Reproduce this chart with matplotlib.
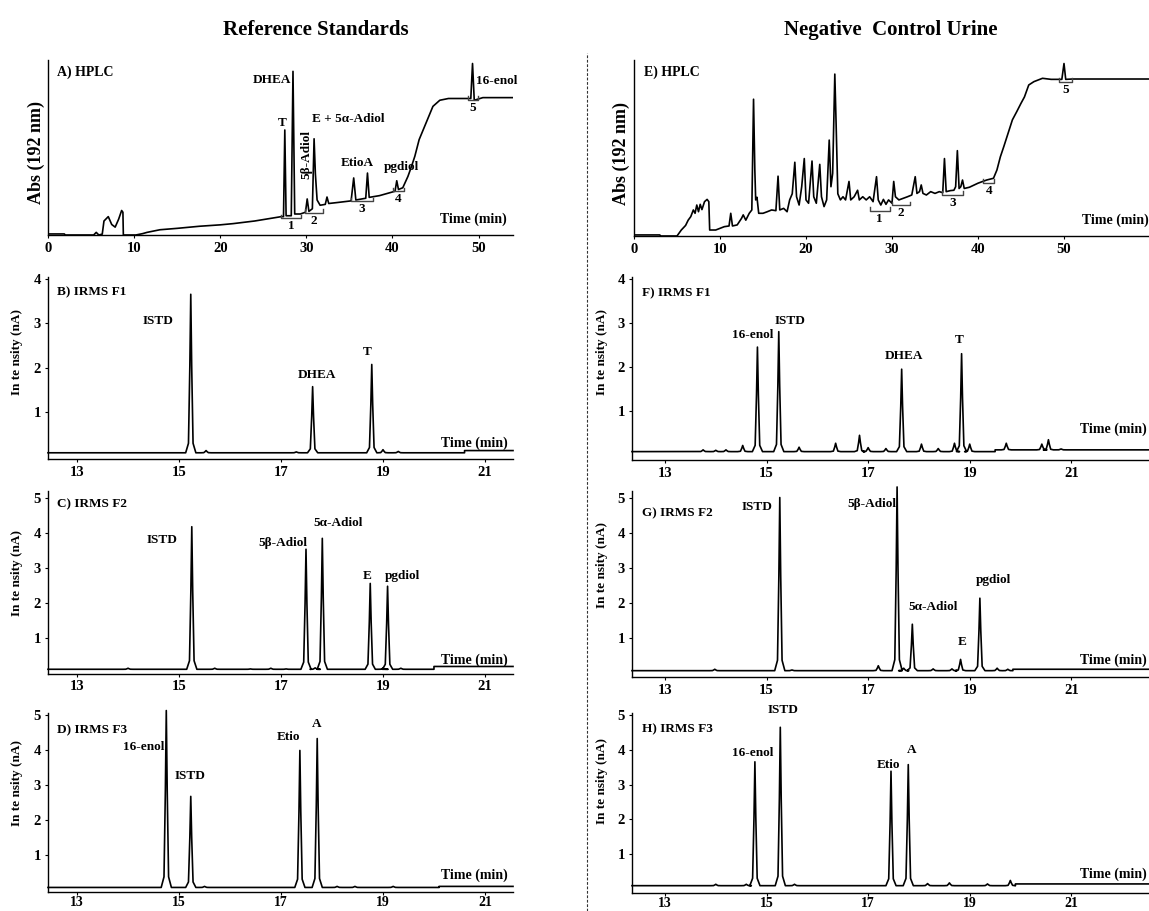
import matplotlib
matplotlib.use('Agg')
import matplotlib.pyplot as plt
from matplotlib.lines import Line2D

plt.rcParams['font.family'] = ['Liberation Serif', 'DejaVu Serif']
plt.rcParams['font.weight'] = 'bold'
plt.rcParams['axes.labelweight'] = 'bold'

# ---- HPLC traces (time in min, absorbance in arbitrary units) ----
hplc_std_t = [0, 1.9, 2.0, 5.3, 5.6, 5.9, 6.3, 6.5, 7.0, 7.4, 7.8, 8.2, 8.55, 8.7, 8.75,
              10.2, 11.0, 11.5, 13.0, 15.0, 17.6, 20.0, 21.5, 24.0, 27.1, 27.35, 27.5,
              27.65, 28.25, 28.45, 28.65, 29.3, 29.9, 30.1, 30.3, 30.7, 30.9, 31.05,
              31.25, 31.6, 32.2, 32.4, 32.6, 33.5, 35.2, 35.5, 35.75, 36.9, 37.1, 37.3,
              38.5, 40.3, 40.5, 40.7, 41.2, 41.8, 42.2, 42.6, 43.1, 43.9, 44.7, 45.5,
              46.5, 49.1, 49.3, 49.5, 50.5, 54.0]
hplc_std_y = [0.6, 0.6, 0, 0, 1.5, 0, 0.5, 8, 10.5, 6, 4.5, 9, 14, 13, 0,
              0, 0.8, 1.5, 3, 3.8, 5, 5.8, 6.5, 8, 10.5, 10.5, 60,
              11, 11, 93.5, 12, 12, 13, 20.6, 13.5, 15, 55, 35,
              20, 17, 17.5, 21.7, 18, 18.5, 19.5, 32.6, 20, 21, 35.4, 21.5,
              22.5, 25, 31, 26, 27, 33.5, 39, 45, 54.5, 64, 73.5, 77,
              78, 78, 98, 77, 78.5, 78.5]

hplc_urine_t = [0, 3.0, 3.1, 5.0, 5.5, 6.0, 6.3, 6.6, 6.9, 7.1, 7.3, 7.5, 7.7, 7.9, 8.2,
                8.5, 8.7, 8.8, 9.5, 10.5, 11.05, 11.25, 11.45, 12.0, 12.5, 12.7, 13.0,
                13.4, 13.7, 13.9, 14.05, 14.15, 14.3, 14.5, 15.0, 15.5, 16.0, 16.5,
                16.75, 16.95, 17.4, 17.8, 18.1, 18.4, 18.7, 18.9, 19.2, 19.5, 19.8,
                20.0, 20.3, 20.7, 20.9, 21.2, 21.6, 21.8, 22.1, 22.4, 22.7, 22.9, 23.1,
                23.35, 23.5, 23.7, 24.0, 24.3, 24.6, 25.0, 25.2, 25.6, 26.0, 26.2, 26.6,
                27.0, 27.4, 27.8, 28.2, 28.4, 28.7, 29.0, 29.3, 29.6, 30.0, 30.2, 30.4,
                30.8, 31.3, 31.8, 32.3, 32.7, 32.9, 33.2, 33.4, 33.6, 34.0, 34.5, 35.0,
                35.5, 35.9, 36.1, 36.3, 36.8, 37.2, 37.4, 37.6, 37.8, 38.0, 38.2, 38.4,
                39.0, 40.0, 41.0, 41.8, 42.2, 42.6, 43.0, 43.5, 44.0, 44.5, 45.0, 45.4,
                45.9, 46.5, 47.5, 48.5, 49.75, 50.0, 50.2, 51.0, 60.0]
hplc_urine_y = [0.6, 0.6, 0, 0, 3.4, 6, 9, 11, 14.8, 12.9, 17.6, 13.8, 18, 15, 19.5,
                20.8, 19.5, 3.4, 3.4, 5.3, 5.7, 12.9, 5.7, 6.3, 10, 12, 9,
                12.9, 14.8, 77.7, 37.5, 20.5, 22, 12.9, 12.9, 13.8, 14.8, 14.4,
                34, 14.8, 15.7, 13.8, 20.5, 24, 41.9, 22.3, 17.6, 28, 44,
                20.5, 18.6, 42.6, 22.3, 18.6, 40.7, 22.3, 16.7, 20.5, 54.5, 28, 35.6,
                92, 64, 24, 20.5, 22.3, 20.5, 31, 20.5, 22.3, 26, 20.5, 22.3,
                20.5, 22.3, 19.5, 33.7, 20.5, 17.6, 20.8, 18, 20.5, 18.6, 31, 22.3,
                20.5, 21.4, 22.3, 23.3, 33.7, 24.2, 25.2, 29, 24.2, 23.3, 25.2, 24.2,
                25.2, 24.6, 44, 25.2, 25.8, 26, 28, 48.5, 27, 28, 31.8, 27,
                27.7, 30, 31.8, 32.8, 37.5, 45, 50.8, 58.3, 66, 70.6, 75.4, 79,
                85.8, 87.7, 89.6, 89, 89, 98, 89, 89.2, 89.2]

# collected HPLC fractions (start, end, level)
frac_names = ['1', '2', '3', '4', '5']
frac_std_t0 = [27.1, 29.8, 35.2, 40.1, 48.8]
frac_std_t1 = [29.4, 31.9, 37.7, 41.3, 49.9]
frac_std_y = [9.7, 12.6, 19.2, 25.0, 77.3]
frac_urine_t0 = [27.4, 30.0, 35.8, 40.6, 49.4]
frac_urine_t1 = [29.75, 32.1, 38.3, 41.9, 50.9]
frac_urine_y = [14.4, 17.6, 23.3, 30.3, 87.7]

# ---- IRMS peaks (retention time in min, intensity in nA) ----
f1_std_peak_t = [15.23, 15.53, 17.3, 17.62, 18.78, 19.0, 19.3]
f1_std_peak_h = [3.65, 0.13, 0.1, 1.57, 2.07, 0.15, 0.11]
f1_std_base_t = [12.43, 20.6]
f1_std_base_y = [0.08, 0.13]

f2_std_peak_t = [14.0, 15.25, 15.7, 16.4, 16.8, 17.1, 17.49, 17.67, 17.81, 18.75, 19.0, 19.09, 19.35]
f2_std_peak_h = [0.15, 4.17, 0.15, 0.13, 0.15, 0.13, 3.53, 0.16, 3.84, 2.56, 0.15, 2.48, 0.15]
f2_std_base_t = [12.43, 20.0]
f2_std_base_y = [0.12, 0.2]

f3_std_peak_t = [14.75, 15.23, 15.5, 17.37, 17.71, 18.1, 18.45, 19.2]
f3_std_peak_h = [5.12, 2.67, 0.1, 3.98, 4.32, 0.1, 0.1, 0.1]
f3_std_base_t = [12.43, 20.1]
f3_std_base_y = [0.07, 0.1]

f1_urine_peak_t = [13.75, 14.0, 14.2, 14.53, 14.82, 15.24, 15.64, 16.36, 16.83, 17.0, 17.35,
                   17.66, 18.05, 18.38, 18.7, 18.84, 19.0, 19.72, 20.42, 20.55, 20.8]
f1_urine_peak_h = [0.12, 0.11, 0.12, 0.22, 2.45, 2.8, 0.18, 0.27, 0.45, 0.17, 0.15,
                   1.95, 0.25, 0.15, 0.27, 2.3, 0.25, 0.27, 0.25, 0.35, 0.14]
f1_urine_base_t = [12.35, 19.5]
f1_urine_base_y = [0.08, 0.12]

f2_urine_peak_t = [13.98, 15.26, 15.5, 17.2, 17.57, 17.7, 17.87, 18.28, 18.65, 18.82, 19.2, 19.54, 19.75]
f2_urine_peak_h = [0.12, 5.0, 0.1, 0.22, 5.3, 0.15, 1.4, 0.13, 0.13, 0.4, 2.14, 0.15, 0.12]
f2_urine_base_t = [12.35, 19.85]
f2_urine_base_y = [0.08, 0.12]

f3_urine_peak_t = [14.0, 14.6, 14.77, 15.27, 15.55, 17.45, 17.79, 18.17, 18.6, 19.35, 19.8]
f3_urine_peak_h = [0.14, 0.14, 3.65, 4.64, 0.14, 3.38, 3.57, 0.16, 0.18, 0.15, 0.25]
f3_urine_base_t = [12.35, 19.9]
f3_urine_base_y = [0.1, 0.15]

hplc_ticks = [0, 10, 20, 30, 40, 50]
irms_ticks = [13, 15, 17, 19, 21]

W, H = 1149, 911
fig = plt.figure(figsize=(W / 100, H / 100), dpi=100)


def frame(l, r, t, b):
    return [l / W, 1 - b / H, (r - l) / W, (b - t) / H]


def style(ax):
    for s in ['top', 'right']:
        ax.spines[s].set_visible(False)
    for s in ['left', 'bottom']:
        ax.spines[s].set_linewidth(1.0)
    ax.tick_params(labelsize=10.5, length=2.5, width=0.8, pad=2.5)


# peak outline used to draw each IRMS peak on its baseline
SHAPE_DT = [-0.1, -0.045, -0.018, 0, 0.018, 0.045, 0.1]
SHAPE_F = [0, 0.06, 0.55, 1, 0.55, 0.06, 0]


def irms_trace(peak_t, peak_h, base_t, base_y, t_end):
    xs, ys = [], []
    bounds = list(base_t) + [t_end]
    pk = sorted(zip(peak_t, peak_h))
    for i, level in enumerate(base_y):
        lo, hi = bounds[i], bounds[i + 1]
        xs.append(lo)
        ys.append(level)
        for t, h in pk:
            if lo <= t < hi:
                for dt, f in zip(SHAPE_DT, SHAPE_F):
                    xs.append(t + dt)
                    ys.append(level + f * (h - level))
        xs.append(hi)
        ys.append(level)
    return xs, ys


def hplc_panel(rect, xmax, t, y, ft0, ft1, fy, label, time_x, lab_x):
    ax = fig.add_axes(rect)
    style(ax)
    ax.plot(t, y, color='black', lw=1.2)
    for name, a, b, lv in zip(frac_names, ft0, ft1, fy):
        ax.plot([a, a, b, b], [lv + 2, lv, lv, lv + 2], color='#444444', lw=1.0)
        ax.text((a + b) / 2, lv - 1.2, name, ha='center', va='top', fontsize=9.5)
    ax.set_xlim(0, xmax)
    ax.set_ylim(0, 100)
    ax.set_xticks(hplc_ticks)
    ax.set_yticks([])
    ax.set_ylabel('Abs (192 nm)', fontsize=13)
    ax.yaxis.set_label_coords(lab_x, 0.47)
    ax.text(0.02, 0.93, label, transform=ax.transAxes, fontsize=10, va='center')
    ax.text(time_x, 0.09, 'Time (min)', transform=ax.transAxes, fontsize=10,
            ha='right', va='center')
    return ax


def irms_panel(rect, xlim, ylim, yticks, trace, label, label_y, names, nx, ny,
               time_x, time_y, lab_x, lab_y):
    ax = fig.add_axes(rect)
    style(ax)
    xs, ys = trace
    ax.plot(xs, ys, color='black', lw=1.2, clip_on=False)
    ax.set_xlim(*xlim)
    ax.set_ylim(*ylim)
    ax.set_xticks(irms_ticks)
    ax.set_yticks(yticks)
    ax.set_ylabel('In te nsity (nA)', fontsize=9.5)
    ax.yaxis.set_label_coords(lab_x, lab_y)
    ax.text(0.02, label_y, label, transform=ax.get_yaxis_transform(), fontsize=9.5, va='center')
    for n, x, yv in zip(names, nx, ny):
        ax.text(x, yv, n, ha='center', va='center', fontsize=9.5)
    ax.text(time_x, time_y, 'Time (min)', ha='right', va='center', fontsize=10)
    return ax


# ---- HPLC panels ----
axA = hplc_panel(frame(48, 513, 60, 235), 54, hplc_std_t, hplc_std_y,
                 frac_std_t0, frac_std_t1, frac_std_y, 'A) HPLC', 0.987, -0.006)
axA.text(28.2, 88.8, 'DHEA', ha='right', va='center', fontsize=9.5)
axA.text(27.2, 64, 'T', ha='center', va='center', fontsize=9.5)
axA.text(30.0, 46, '5β-Adiol', ha='center', va='center', fontsize=9.5, rotation=90)
axA.text(30.6, 66.3, 'E + 5α-Adiol', ha='left', va='center', fontsize=9.5)
axA.text(35.9, 41, 'EtioA', ha='center', va='center', fontsize=9.5)
axA.text(41.0, 39, 'pgdiol', ha='center', va='center', fontsize=9.5)
axA.text(49.7, 87.8, '16-enol', ha='left', va='center', fontsize=9.5)

axE = hplc_panel(frame(634, 1150, 60, 236), 60, hplc_urine_t, hplc_urine_y,
                 frac_urine_t0, frac_urine_t1, frac_urine_y, 'E) HPLC', 0.998, -0.008)

# ---- IRMS panels, reference standards ----
irms_panel(frame(48, 513, 277, 459), (12.43, 21.55), (-0.06, 4.04), [1, 2, 3, 4],
           irms_trace(f1_std_peak_t, f1_std_peak_h, f1_std_base_t, f1_std_base_y, 21.55),
           'B) IRMS F1', 3.69, ['ISTD', 'DHEA', 'T'], [14.59, 17.7, 18.69], [3.04, 1.84, 2.36],
           21.45, 0.3, -0.054, 0.59)
irms_panel(frame(48, 513, 490.5, 673.5), (12.43, 21.55), (0, 5.2), [1, 2, 3, 4, 5],
           irms_trace(f2_std_peak_t, f2_std_peak_h, f2_std_base_t, f2_std_base_y, 21.55),
           'C) IRMS F2', 4.82, ['ISTD', '5β-Adiol', '5α-Adiol', 'E', 'pgdiol'],
           [14.67, 17.04, 18.12, 18.69, 19.39], [3.8, 3.71, 4.28, 2.77, 2.77],
           21.45, 0.38, -0.054, 0.55)
axD = irms_panel(frame(48, 513, 713, 892), (12.43, 21.55), (-0.06, 5.05), [1, 2, 3, 4, 5],
                 irms_trace(f3_std_peak_t, f3_std_peak_h, f3_std_base_t, f3_std_base_y, 21.55),
                 'D) IRMS F3', 4.57, ['16-enol', 'ISTD', 'Etio', 'A'],
                 [14.3, 15.22, 17.14, 17.69], [4.09, 3.26, 4.37, 4.74],
                 21.45, 0.43, -0.054, 0.61)

# ---- IRMS panels, negative control urine ----
irms_panel(frame(632, 1150, 277, 460), (12.35, 22.55), (-0.11, 4.04), [1, 2, 3, 4],
           irms_trace(f1_urine_peak_t, f1_urine_peak_h, f1_urine_base_t, f1_urine_base_y, 22.55),
           'F) IRMS F1', 3.68, ['16-enol', 'ISTD', 'DHEA', 'T'],
           [14.73, 15.46, 17.7, 18.8], [2.73, 3.05, 2.25, 2.61],
           22.49, 0.59, -0.046, 0.59)
irms_panel(frame(632, 1150, 490.5, 677), (12.35, 22.55), (-0.1, 5.2), [1, 2, 3, 4, 5],
           irms_trace(f2_urine_peak_t, f2_urine_peak_h, f2_urine_base_t, f2_urine_base_y, 22.55),
           'G) IRMS F2', 4.56, ['ISTD', '5β-Adiol', '5α-Adiol', 'E', 'pgdiol'],
           [14.81, 17.07, 18.28, 18.85, 19.46], [4.73, 4.82, 1.89, 0.9, 2.66],
           22.49, 0.38, -0.046, 0.6)
axH = irms_panel(frame(632, 1150, 713, 893), (12.35, 22.55), (-0.11, 5.05), [1, 2, 3, 4, 5],
                 irms_trace(f3_urine_peak_t, f3_urine_peak_h, f3_urine_base_t, f3_urine_base_y, 22.55),
                 'H) IRMS F3', 4.57, ['16-enol', 'ISTD', 'Etio', 'A'],
                 [14.72, 15.32, 17.41, 17.86], [3.91, 5.13, 3.57, 4.0],
                 22.49, 0.43, -0.046, 0.62)

# bottom row: keep the time tick labels inside the figure
for ax in (axD, axH):
    ax.tick_params(axis='x', labelsize=10, length=2, pad=1)

# column titles and divider
fig.text(316 / W, 1 - 30 / H, 'Reference Standards', ha='center', va='center', fontsize=15)
fig.text(891 / W, 1 - 30 / H, 'Negative  Control Urine', ha='center', va='center', fontsize=15)
fig.add_artist(Line2D([587 / W, 587 / W], [0, 1 - 53 / H], transform=fig.transFigure,
                      color='#333333', lw=0.8, ls=(0, (2.5, 1.5))))

fig.savefig('out.png', dpi=100)
